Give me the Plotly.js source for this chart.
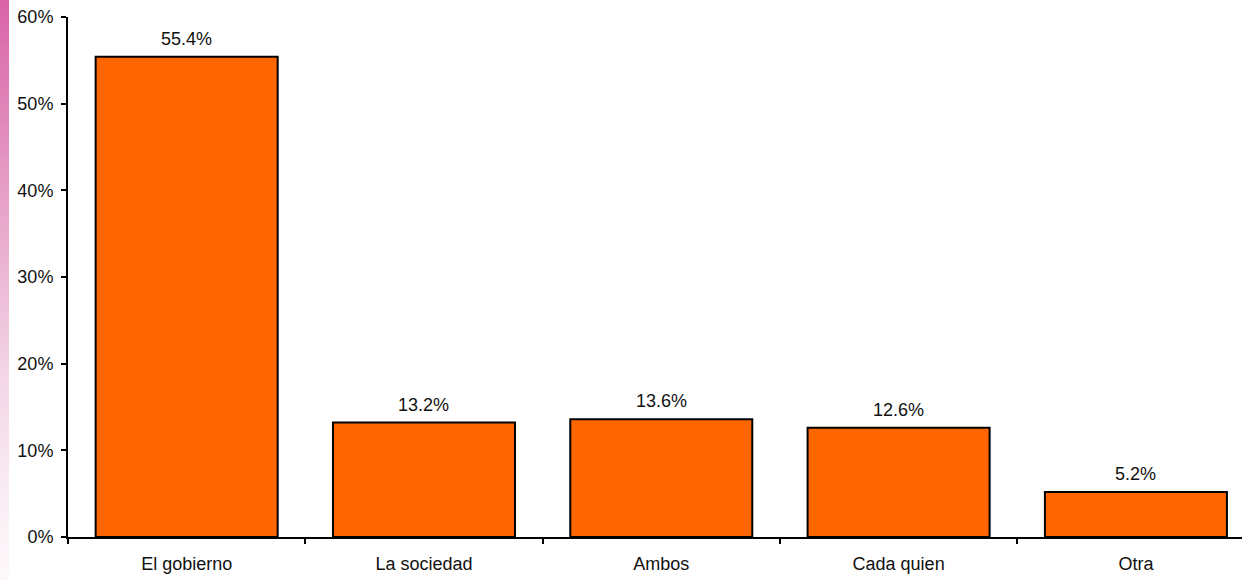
<!DOCTYPE html>
<html>
<head>
<meta charset="utf-8">
<script src="https://cdn.plot.ly/plotly-3.0.1.min.js"></script>
<style>
html,body{margin:0;padding:0;background:#fff;}
#wrap{position:relative;width:1242px;height:580px;}
#chart{width:1242px;height:580px;}
#strip{position:absolute;left:0;top:0;width:9px;height:580px;background:linear-gradient(to bottom,#d963a7 0%,#e7a2c8 35%,#f3d6e7 65%,#fbf1f6 90%,#fdf8fb 100%);pointer-events:none;}
</style>
</head>
<body>
<div id="wrap">
<div id="chart"></div>
<div id="strip"></div>
</div>
<script>
var categories = ["El gobierno", "La sociedad", "Ambos", "Cada quien", "Otra"];
var values = [55.4, 13.2, 13.6, 12.6, 5.2];
var valueLabels = ["55.4%", "13.2%", "13.6%", "12.6%", "5.2%"];
var yTickVals = [0, 10, 20, 30, 40, 50, 60];
var yTickText = ["0%", "10%", "20%", "30%", "40%", "50%", "60%"];

var font = {family: "'Liberation Sans', Arial, sans-serif", size: 18, color: "#111"};

var trace = {
  type: "bar",
  x: categories,
  y: values,
  marker: {color: "#FF6600", line: {color: "#000", width: 2}},
  hoverinfo: "none"
};

var annotations = categories.map(function (c, i) {
  return {
    x: c, y: values[i], xref: "x", yref: "y",
    text: valueLabels[i], showarrow: false,
    yanchor: "bottom", yshift: 6,
    font: font
  };
});

var layout = {
  width: 1242, height: 580,
  margin: {l: 68, r: 0, t: 17, b: 43},
  paper_bgcolor: "#fff", plot_bgcolor: "#fff",
  font: font,
  showlegend: false,
  bargap: 0.233,
  xaxis: {
    type: "category",
    range: [-0.5, 4.447],
    showline: true, linecolor: "#000", linewidth: 2,
    ticks: "outside", tickson: "boundaries", ticklen: 5, tickwidth: 2, tickcolor: "#000",
    showgrid: false, zeroline: false,
    ticklabelstandoff: 9,
    tickfont: font
  },
  yaxis: {
    range: [0, 60],
    tickvals: yTickVals, ticktext: yTickText,
    showline: true, linecolor: "#000", linewidth: 2,
    ticks: "outside", ticklen: 5, tickwidth: 2, tickcolor: "#000",
    showgrid: false, zeroline: false,
    ticklabelstandoff: 4,
    tickfont: font
  },
  annotations: annotations
};

Plotly.newPlot("chart", [trace], layout, {displayModeBar: false, staticPlot: true});
</script>
</body>
</html>
